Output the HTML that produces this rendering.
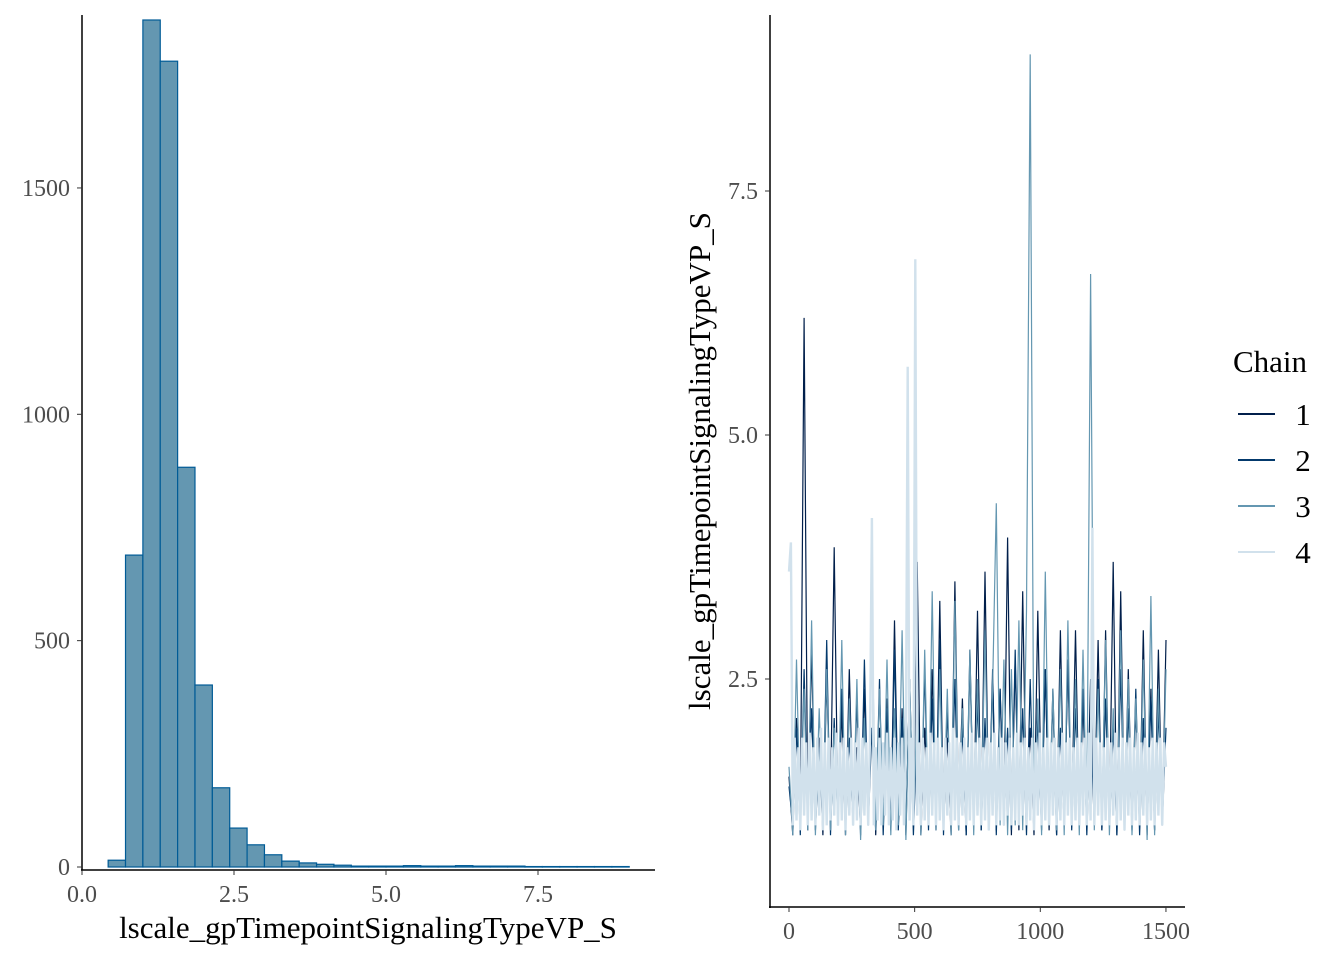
<!DOCTYPE html>
<html><head><meta charset="utf-8"><style>
body{margin:0;background:#fff}
svg text{font-family:"Liberation Serif",serif}
</style></head><body>
<svg width="1344" height="960" xmlns="http://www.w3.org/2000/svg">
<g id="hist"></g>
<g id="trace"></g>
</svg>
<script>
const histCounts=[15,689,1871,1780,883,402,175,86,49,27,13,9,6,4,2,2,2,3,2,2,3,2,2,2,1,1,1,1,1,1];
const histStart=0.43, histEnd=9.0;
const histXTicks=[0,2.5,5,7.5], histXLabels=["0.0","2.5","5.0","7.5"];
const histYTicks=[0,500,1000,1500];
const chainNames=["1","2","3","4"];
const chainColors=["#011f4b","#03396c","#6497b1","#d1e1ec"];
const chain1=[1.5,0.9,2.1,1.0,6.2,0.95,2.8,1.0,1.9,0.9,2.5,1.2,3.85,1.0,2.2,0.9,2.6,1.1,1.8,0.95,2.4,1.0,2.9,0.9,2.0,1.1,2.3,0.95,3.1,1.0,2.2,0.9,2.5,1.0,3.7,0.9,2.0,1.1,2.6,0.95,3.3,1.0,1.9,0.9,3.5,1.1,2.3,0.9,2.8,1.0,3.2,0.95,3.6,1.0,2.5,0.95,2.4,1.1,3.95,0.9,2.7,0.95,3.4,1.0,2.0,0.9,3.2,1.1,2.6,0.95,2.4,0.9,3.0,1.0,2.7,1.1,3.0,1.0,2.3,0.95,2.5,1.0,2.9,0.95,3.0,1.0,3.7,0.9,3.4,0.95,2.6,1.0,2.2,1.0,3.0,0.9,2.4,0.95,2.8,1.0,2.9];
const chain2=[1.4,1.0,2.0,0.9,2.6,1.0,2.2,0.95,1.8,1.0,2.9,0.9,2.1,1.0,2.4,0.95,1.9,1.0,2.3,0.9,2.7,1.0,2.0,0.95,2.5,0.9,2.2,1.0,2.8,0.95,2.1,1.0,2.4,0.9,2.0,1.0,2.6,0.95,2.3,1.0,2.9,0.9,2.2,1.0,2.5,0.95,2.0,0.9,2.7,1.0,2.3,0.95,2.1,1.0,2.6,0.9,2.4,1.0,2.0,0.95,2.8,1.0,2.2,0.9,2.5,1.0,2.1,0.95,2.6,1.0,2.3,0.9,2.0,1.0,2.7,0.95,2.2,1.0,2.4,0.9,2.1,1.0,2.5,0.95,2.3,1.0,2.0,0.9,2.6,1.0,2.2,0.95,2.4,0.9,2.1,1.0,2.3,0.95,2.2,1.0,2.0];
const chain3=[1.6,0.9,2.7,1.0,2.4,0.95,3.1,0.9,2.2,1.0,2.6,0.95,2.0,1.0,2.9,0.9,2.3,1.0,2.5,0.85,2.1,1.0,3.2,0.95,2.4,1.0,2.7,0.9,2.2,1.0,3.0,0.85,2.5,1.0,2.3,0.9,2.8,1.0,3.4,0.95,2.6,1.0,2.4,0.9,3.3,0.95,2.2,1.0,2.8,0.9,2.5,1.0,3.0,0.95,2.4,4.3,1.0,2.7,0.9,2.6,1.0,3.1,0.95,3.2,8.9,1.0,2.3,0.9,3.6,1.0,2.4,0.95,2.6,0.9,3.1,1.0,2.5,0.9,2.8,1.0,6.65,0.95,2.4,1.0,2.9,0.9,2.2,1.0,3.0,0.95,2.5,0.9,2.3,1.0,2.7,0.85,3.35,0.9,2.4,1.0,2.6];
const chain4=[3.6,3.9,1.0,1.9,1.05,1.8,0.95,1.9,1.1,1.85,
1.0,1.95,1.05,1.8,1.0,1.9,1.1,2.0,0.95,1.85,
1.0,1.9,1.05,1.8,1.1,1.95,1.0,1.85,1.05,1.9,
0.95,1.8,1.1,1.9,1.0,1.85,1.05,2.0,1.0,1.9,
1.1,1.85,1.0,1.9,4.15,1.0,1.8,1.05,1.9,1.0,
1.85,1.1,1.95,1.0,1.8,1.05,1.9,0.95,1.85,1.1,
1.9,1.0,1.8,5.7,1.05,1.9,1.0,6.8,1.1,1.85,
1.0,1.9,1.05,1.8,1.0,1.95,1.1,1.85,1.0,1.9,
1.05,1.8,0.95,1.9,1.1,1.85,1.0,2.0,1.05,1.9,
1.0,1.85,1.1,1.9,1.0,1.8,1.05,1.95,1.0,1.85,
1.1,1.9,1.0,1.8,1.05,1.9,0.95,1.85,1.1,1.95,
1.0,1.8,1.05,1.9,1.0,1.85,1.1,1.9,1.0,1.8,
1.05,1.95,1.0,1.85,1.1,1.9,1.0,1.8,1.05,1.9,
0.95,1.85,1.1,1.95,1.0,1.8,1.05,1.9,1.0,1.85,
1.1,1.9,1.0,1.8,1.05,1.95,1.0,1.85,1.1,1.9,
1.0,1.8,1.05,1.9,1.0,1.85,1.1,1.9,1.0,1.95,
1.05,4.05,1.0,1.9,1.1,1.85,1.0,1.8,1.05,1.9,
1.0,1.85,1.1,1.95,1.0,1.8,1.05,1.9,0.95,1.85,
1.1,1.9,1.0,1.8,1.05,1.95,1.0,1.85,1.1,1.9,
1.0,1.8,1.05,1.9,1.0,1.85,1.1,1.9,1.0,1.85,1.6];
const chains=[chain1,chain2,chain3,chain4];
const chainWidths=[1.2,1.2,1.2,2.4];
const traceXTicks=[0,500,1000,1500];
const traceYTicks=[2.5,5.0,7.5], traceYLabels=["2.5","5.0","7.5"];
const nIter=1500;

const NS="http://www.w3.org/2000/svg";
function mk(p,t,a,txt){const e=document.createElementNS(NS,t);for(const k in a)e.setAttribute(k,a[k]);if(txt!==undefined)e.textContent=txt;p.appendChild(e);return e;}
const hx=v=>82+v*60.8, hy=c=>867-c*0.4527;
const H=document.getElementById('hist');
const bw=(histEnd-histStart)/histCounts.length;
histCounts.forEach((c,i)=>{
 const x0=hx(histStart+i*bw),x1=hx(histStart+(i+1)*bw);
 const r=mk(H,'rect',{x:x0,y:hy(c),width:x1-x0,height:Math.max(hy(0)-hy(c),0.5),fill:'#6497b1',stroke:'#005b96','stroke-width':1.2});
 
 
});
let l=mk(H,'line',{x1:82,y1:15,x2:82,y2:871,stroke:'#000','stroke-width':1.5});

l=mk(H,'line',{x1:81,y1:870,x2:655,y2:870,stroke:'#000','stroke-width':1.5});

histYTicks.forEach(v=>{mk(H,'line',{x1:77,y1:hy(v),x2:82,y2:hy(v),stroke:'#333'});
 const t=mk(H,'text',{x:70,y:hy(v)+8,'text-anchor':'end','font-size':24,fill:'#4d4d4d'},String(v));
 });
histXTicks.forEach((v,i)=>{mk(H,'line',{x1:hx(v),y1:870,x2:hx(v),y2:875,stroke:'#333'});
 const t=mk(H,'text',{x:hx(v),y:902,'text-anchor':'middle','font-size':24,fill:'#4d4d4d'},histXLabels[i]);
 });
let tt=mk(H,'text',{x:368,y:938,'text-anchor':'middle','font-size':31,fill:'#000'},'lscale_gpTimepointSignalingTypeVP_S');


const tx=v=>789+v*0.2513, ty=v=>679-(v-2.5)*97.6;
const T=document.getElementById('trace');
chains.forEach((arr,ci)=>{
 const step=nIter/(arr.length-1);
 const d=arr.map((v,i)=>(i?'L':'M')+tx(i*step).toFixed(1)+' '+ty(v).toFixed(1)).join('');
 const p=mk(T,'path',{d:d,fill:'none',stroke:chainColors[ci],'stroke-width':chainWidths[ci]});
 
 
});
l=mk(T,'line',{x1:770,y1:15,x2:770,y2:908,stroke:'#000','stroke-width':1.5});

l=mk(T,'line',{x1:769,y1:907,x2:1185,y2:907,stroke:'#000','stroke-width':1.5});

traceYTicks.forEach((v,i)=>{mk(T,'line',{x1:765,y1:ty(v),x2:770,y2:ty(v),stroke:'#333'});
 const t=mk(T,'text',{x:758,y:ty(v)+8,'text-anchor':'end','font-size':24,fill:'#4d4d4d'},traceYLabels[i]);
 });
traceXTicks.forEach(v=>{mk(T,'line',{x1:tx(v),y1:907,x2:tx(v),y2:912,stroke:'#333'});
 const t=mk(T,'text',{x:tx(v),y:939,'text-anchor':'middle','font-size':24,fill:'#4d4d4d'},String(v));
 });
tt=mk(T,'text',{x:0,y:0,'text-anchor':'middle','font-size':31,fill:'#000',transform:'translate(710,461) rotate(-90)'},'lscale_gpTimepointSignalingTypeVP_S');

tt=mk(T,'text',{x:1233,y:372,'font-size':31,fill:'#000'},'Chain');

chainNames.forEach((n,i)=>{const y=414+i*46;
 const g=mk(T,'g',{});
 
 
 mk(g,'line',{x1:1238,y1:y,x2:1275,y2:y,stroke:chainColors[i],'stroke-width':2});
 mk(g,'text',{x:1303,y:y+11,'text-anchor':'middle','font-size':31,fill:'#000'},n);
});
</script>
</body></html>
